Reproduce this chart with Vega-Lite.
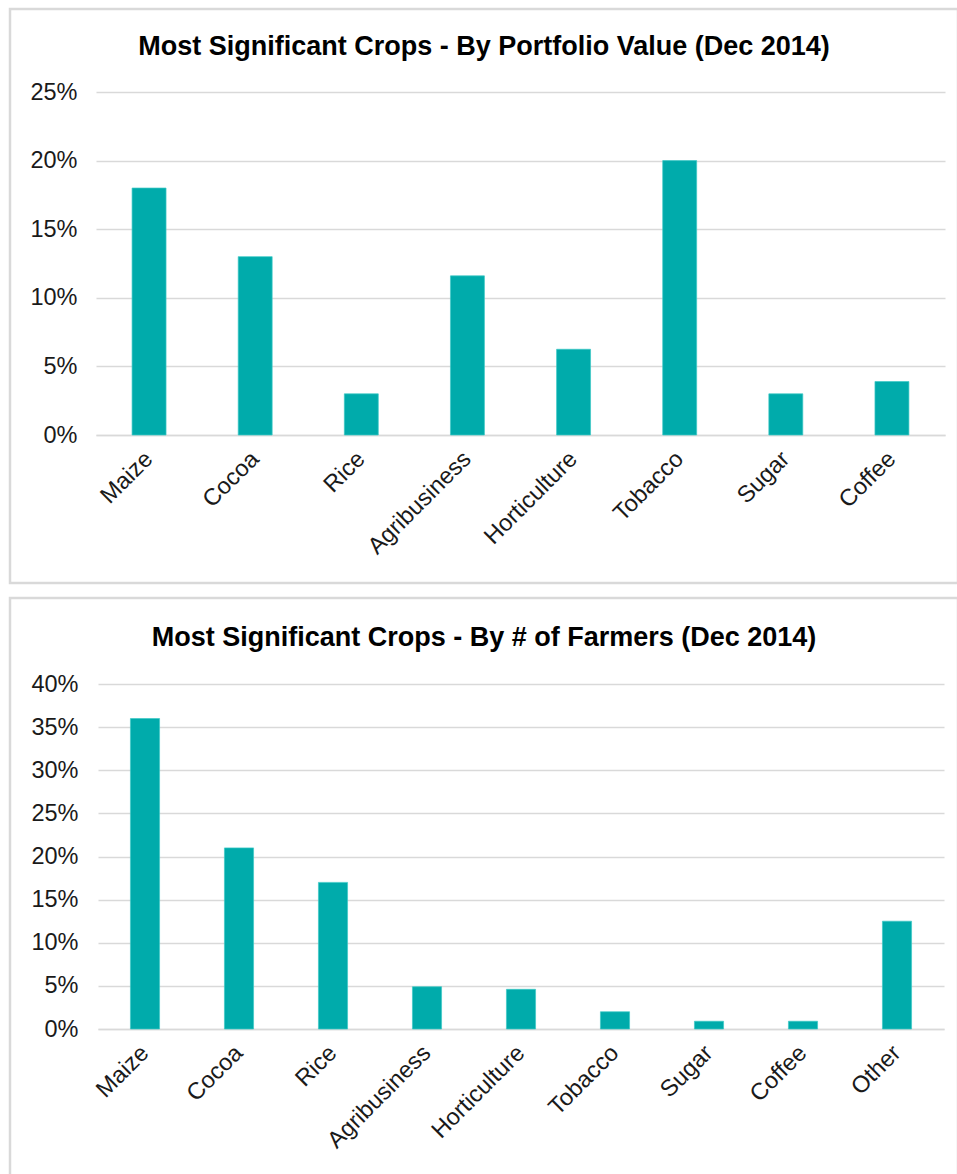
{
  "$schema": "https://vega.github.io/schema/vega-lite/v6.json",
  "padding": {"left": 8, "top": 7, "right": 0, "bottom": 0},
  "background": "white",
  "spacing": 11,
  "datasets": {
    "portfolio": [
      {"crop": "Maize", "share": 0.18},
      {"crop": "Cocoa", "share": 0.13},
      {"crop": "Rice", "share": 0.03},
      {"crop": "Agribusiness", "share": 0.116},
      {"crop": "Horticulture", "share": 0.0625},
      {"crop": "Tobacco", "share": 0.20},
      {"crop": "Sugar", "share": 0.03},
      {"crop": "Coffee", "share": 0.039}
    ],
    "farmers": [
      {"crop": "Maize", "share": 0.36},
      {"crop": "Cocoa", "share": 0.21},
      {"crop": "Rice", "share": 0.17},
      {"crop": "Agribusiness", "share": 0.049},
      {"crop": "Horticulture", "share": 0.046},
      {"crop": "Tobacco", "share": 0.02},
      {"crop": "Sugar", "share": 0.009},
      {"crop": "Coffee", "share": 0.009},
      {"crop": "Other", "share": 0.125}
    ]
  },
  "vconcat": [
    {
      "width": 948,
      "height": 574,
      "data": {"name": "portfolio"},
      "title": {"text": "Most Significant Crops - By Portfolio Value (Dec 2014)", "frame": "group", "anchor": "middle", "offset": -73, "baseline": "alphabetic"},
      "mark": {"type": "bar", "color": "#00ABAB", "stroke": "#3CC9C5", "strokeWidth": 0.7},
      "encoding": {
        "x": {
          "field": "crop", "type": "nominal", "sort": null, "title": null,
          "scale": {"range": [86, 935], "paddingInner": 0.68, "paddingOuter": 0.34},
          "axis": {"orient": "bottom", "offset": -148, "labelAngle": -45, "labelBaseline": "middle", "labelPadding": 20, "ticks": false, "domainColor": "#d9d9d9", "domainWidth": 1.5}
        },
        "y": {
          "field": "share", "type": "quantitative", "title": null,
          "scale": {"domain": [0, 0.25], "range": [426, 83], "nice": false, "zero": true},
          "axis": {"orient": "left", "offset": -86, "values": [0, 0.05, 0.1, 0.15, 0.2, 0.25], "format": ".0%", "labelPadding": 19, "ticks": false, "domain": false, "grid": true}
        }
      }
    },
    {
      "width": 948,
      "height": 590,
      "data": {"name": "farmers"},
      "title": {"text": "Most Significant Crops - By # of Farmers (Dec 2014)", "frame": "group", "anchor": "middle", "offset": -75, "baseline": "alphabetic"},
      "mark": {"type": "bar", "color": "#00ABAB", "stroke": "#3CC9C5", "strokeWidth": 0.7},
      "encoding": {
        "x": {
          "field": "crop", "type": "nominal", "sort": null, "title": null,
          "scale": {"range": [88, 934], "paddingInner": 0.69, "paddingOuter": 0.345},
          "axis": {"orient": "bottom", "offset": -159, "labelAngle": -45, "labelBaseline": "middle", "labelPadding": 20, "ticks": false, "domainColor": "#d9d9d9", "domainWidth": 1.5}
        },
        "y": {
          "field": "share", "type": "quantitative", "title": null,
          "scale": {"domain": [0, 0.4], "range": [431, 86], "nice": false, "zero": true},
          "axis": {"orient": "left", "offset": -88, "values": [0, 0.05, 0.1, 0.15, 0.2, 0.25, 0.3, 0.35, 0.4], "format": ".0%", "labelPadding": 20, "ticks": false, "domain": false, "grid": true}
        }
      }
    }
  ],
  "config": {
    "font": "Liberation Sans",
    "view": {"stroke": "#d9d9d9", "strokeWidth": 2.5, "fill": "white"},
    "title": {"fontSize": 27, "fontWeight": "bold", "color": "#000000", "font": "Liberation Sans"},
    "axis": {
      "labelFont": "Liberation Sans",
      "labelFontSize": 23.5,
      "labelColor": "#1a1a1a",
      "gridColor": "#d9d9d9",
      "gridWidth": 1.5,
      "labelOverlap": false,
      "labelFlush": false,
      "labelLimit": 300
    }
  }
}
